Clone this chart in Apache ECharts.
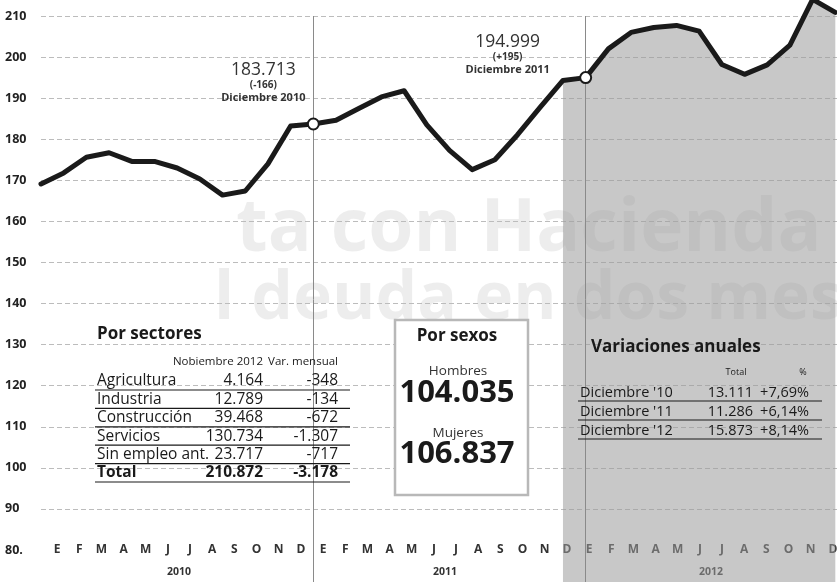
<!DOCTYPE html>
<html>
<head>
<meta charset="utf-8">
<script src="https://cdn.jsdelivr.net/npm/echarts@6/dist/echarts.min.js"></script>
<style>
  html, body { margin: 0; padding: 0; background: #fff; }
  #chart { width: 837px; height: 582px; }
</style>
</head>
<body>
<div id="chart"></div>
<script>
// datos: paro registrado (miles), dic 2009 - dic 2012
const monthNames = ['Ene', 'Feb', 'Mar', 'Abr', 'May', 'Jun', 'Jul', 'Ago', 'Sep', 'Oct', 'Nov', 'Dic']
const monthInitials = ['E', 'F', 'M', 'A', 'M', 'J', 'J', 'A', 'S', 'O', 'N', 'D']
const years = ['2010', '2011', '2012']
const paro = [
  169.1,
  171.8, 175.6, 176.7, 174.6, 174.6, 173.0, 170.3, 166.4, 167.4, 174.0, 183.2, 183.713,
  184.6, 187.5, 190.3, 191.8, 183.5, 177.3, 172.6, 175.0, 181.1, 187.8, 194.3, 194.999,
  202.0, 206.0, 207.2, 207.7, 206.3, 198.2, 195.8, 198.1, 202.9, 214.05, 210.872, null
]
const shadeFrom = 23 // zona sombreada (2012)
const annotations = [
  { index: 12, total: '183.713', change: '(-166)', month: 'Diciembre 2010' },
  { index: 24, total: '194.999', change: '(+195)', month: 'Diciembre 2011' }
]

const sectorNames = ['Agricultura', 'Industria', 'Construcción', 'Servicios', 'Sin empleo ant.', 'Total']
const sectorNov2012 = ['4.164', '12.789', '39.468', '130.734', '23.717', '210.872']
const sectorVar = ['-348', '-134', '-672', '-1.307', '-717', '-3.178']
const sexLabels = ['Hombres', 'Mujeres']
const sexValues = ['104.035', '106.837']
const annualLabels = ["Diciembre '10", "Diciembre '11", "Diciembre '12"]
const annualTotals = ['13.111', '11.286', '15.873']
const annualPct = ['+7,69%', '+6,14%', '+8,14%']

const FONT = "'Open Sans', 'DejaVu Sans', sans-serif"
const INK = '#1a1a1a'

const periods = ['Dic 2009']
years.forEach(y => monthNames.forEach(m => periods.push(m + ' ' + y)))
const monthKeys = []
years.forEach(y => monthInitials.forEach((m, i) => monthKeys.push(m + '-' + y + '-' + i)))

const labelOffsets = [[-50, -8], [-78, 10]]

const lineData = paro.map((v, i) => {
  const k = annotations.findIndex(a => a.index === i)
  if (k < 0) return v
  const a = annotations[k]
  return {
    value: v,
    symbol: 'circle',
    symbolSize: 11,
    itemStyle: { color: '#fff', borderColor: INK, borderWidth: 2 },
    label: {
      show: true,
      position: 'top',
      distance: 5,
      offset: labelOffsets[k],
      align: 'center',
      formatter: '{a|' + a.total + '}\n{b|' + a.change + '}\n{c|' + a.month + '}',
      rich: {
        a: { fontFamily: FONT, fontSize: 17.5, color: '#333', lineHeight: 18, align: 'center' },
        b: { fontFamily: FONT, fontSize: 10, fontWeight: 'bold', color: '#333', lineHeight: 12, align: 'center' },
        c: { fontFamily: FONT, fontSize: 11, fontWeight: 'bold', color: '#333', lineHeight: 13, align: 'center' }
      }
    }
  }
})

const shadeData = paro.map((v, i) => (i < shadeFrom ? '-' : v))

// textos y tablas
function txt(x, y, text, size, weight, align, color) {
  return {
    type: 'text', x: x, y: y, z: 20,
    style: {
      text: text, fontSize: size, fontWeight: weight, fontFamily: FONT,
      fill: color || INK, align: align || 'left', verticalAlign: 'middle'
    }
  }
}
function hline(x1, x2, y) {
  return { type: 'line', z: 20, shape: { x1: x1, y1: y, x2: x2, y2: y }, style: { stroke: INK, lineWidth: 1.2 } }
}

const graphics = []
// texto traspasado del reverso de la página
graphics.push({ type: 'text', x: 236, y: 230, z: 0, silent: true,
  style: { text: 'ta con Hacienda', fontSize: 73, fontWeight: 'bold', fontFamily: FONT, fill: 'rgba(0,0,0,0.07)', verticalAlign: 'middle' } })
graphics.push({ type: 'text', x: 214, y: 300, z: 0, silent: true,
  style: { text: 'l deuda en dos meses', fontSize: 66, fontWeight: 'bold', fontFamily: FONT, fill: 'rgba(0,0,0,0.07)', verticalAlign: 'middle' } })

// Por sectores
graphics.push(txt(97, 334, 'Por sectores', 17, 'bold'))
graphics.push(txt(263, 362, 'Nobiembre 2012', 11.5, 'normal', 'right'))
graphics.push(txt(338, 362, 'Var. mensual', 11.5, 'normal', 'right'))
sectorNames.forEach((name, i) => {
  const y = 381 + i * 18.4
  const w = i === sectorNames.length - 1 ? 'bold' : 'normal'
  graphics.push(txt(97, y, name, 15.5, w))
  graphics.push(txt(263, y, sectorNov2012[i], 15.5, w, 'right'))
  graphics.push(txt(338, y, sectorVar[i], 15.5, w, 'right'))
  graphics.push(hline(95, 350, y + 9))
})

// Por sexos
graphics.push({ type: 'rect', z: 19, shape: { x: 395, y: 320, width: 133, height: 175 },
  style: { fill: '#fff', stroke: '#b8b8b8', lineWidth: 2.5 } })
graphics.push(txt(457, 336, 'Por sexos', 17, 'bold', 'center'))
sexLabels.forEach((s, i) => {
  graphics.push(txt(458, 371 + i * 62, s, 13.5, 'normal', 'center', '#333'))
  graphics.push(txt(457, 393 + i * 61, sexValues[i], 31, 'bold', 'center'))
})

// Variaciones anuales
graphics.push(txt(591, 347, 'Variaciones anuales', 17, 'bold'))
graphics.push(txt(736, 372, 'Total', 9, 'normal', 'center'))
graphics.push(txt(803, 372, '%', 9, 'normal', 'center'))
annualLabels.forEach((lab, i) => {
  const y = 393 + i * 19
  graphics.push(txt(580, y, lab, 14.5, 'normal'))
  graphics.push(txt(753, y, annualTotals[i], 14.5, 'normal', 'right'))
  graphics.push(txt(809, y, annualPct[i], 14.5, 'normal', 'right'))
  graphics.push(hline(578, 822, y + 8))
})

const chart = echarts.init(document.getElementById('chart'))

const option = {
  animation: false,
  backgroundColor: '#fff',
  grid: [
    { left: 41, right: -21, top: 16, bottom: 32, outerBoundsMode: 'none' },    // línea
    { left: 46, right: -7, top: 16, bottom: 32, outerBoundsMode: 'none' },     // etiquetas de meses
    { left: 41, right: -21, top: 16, bottom: -9.1, outerBoundsMode: 'none' }   // sombreado 2012
  ],
  xAxis: [
    { gridIndex: 0, type: 'category', data: periods, boundaryGap: false, show: false },
    {
      gridIndex: 1, type: 'category', data: monthKeys, boundaryGap: true,
      axisLine: { show: false }, axisTick: { show: false }, splitLine: { show: false },
      axisLabel: {
        interval: 0, margin: 0, verticalAlign: 'middle', fontFamily: FONT,
        fontSize: 12, fontWeight: 'bold', color: '#333',
        formatter: v => v.split('-')[0]
      }
    },
    {
      gridIndex: 1, type: 'category', data: years, boundaryGap: true, position: 'bottom', offset: 22,
      axisLine: { show: false }, axisTick: { show: false }, splitLine: { show: false },
      axisLabel: { margin: 0, verticalAlign: 'middle', fontFamily: FONT, fontSize: 10.5, fontWeight: 'bold', color: '#333' }
    },
    { gridIndex: 2, type: 'category', data: periods, boundaryGap: false, show: false }
  ],
  yAxis: [
    {
      gridIndex: 0, type: 'value', min: 80, max: 210, interval: 10,
      axisLine: { show: false }, axisTick: { show: false },
      axisLabel: {
        align: 'left', margin: 36, fontFamily: FONT, fontSize: 12.5, fontWeight: 'bold', color: '#222',
        formatter: v => (v === 80 ? '80.' : String(v))
      },
      splitLine: { show: true, showMinLine: false, lineStyle: { color: '#bcbcbc', type: [5, 3], width: 1 } }
    },
    { gridIndex: 1, type: 'value', min: 0, max: 1, show: false },
    { gridIndex: 2, type: 'value', min: 70, max: 210, show: false }
  ],
  graphic: graphics,
  series: [
    {
      name: 'sombreado',
      type: 'line',
      xAxisIndex: 3,
      yAxisIndex: 2,
      data: shadeData,
      clip: false,
      z: 1,
      symbol: 'none',
      silent: true,
      lineStyle: { width: 0 },
      areaStyle: { color: '#9a9a9a', opacity: 0.55, origin: 'start' },
      markLine: {
        silent: true,
        symbol: ['none', 'none'],
        label: { show: false },
        lineStyle: { color: '#8a8a8a', type: 'solid', width: 1 },
        data: [{ xAxis: annotations[0].index }, { xAxis: annotations[1].index }]
      }
    },
    {
      name: 'Paro',
      type: 'line',
      data: lineData,
      clip: false,
      z: 5,
      symbol: 'none',
      showSymbol: true,
      showAllSymbol: true,
      smooth: false,
      lineStyle: { color: INK, width: 5, join: 'round', cap: 'round' },
      emphasis: { disabled: true }
    }
  ]
}

chart.setOption(option)
</script>
</body>
</html>
